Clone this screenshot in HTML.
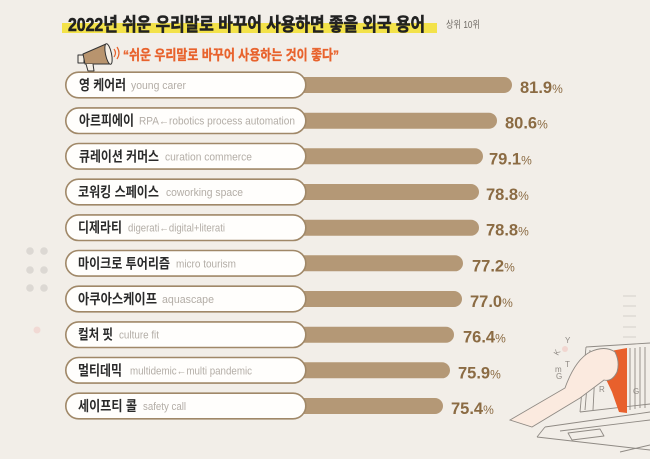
<!DOCTYPE html>
<html>
<head>
<meta charset="utf-8">
<style>
  html,body{margin:0;padding:0;background:#f2eee8;}
  svg{display:block;}
  .ko{font-family:"Liberation Sans","Noto Sans CJK KR",sans-serif;font-weight:700;fill:#2a2a2a;font-size:14px;}
  .en{font-family:"Liberation Sans","DejaVu Sans",sans-serif;fill:#b3ada6;font-size:11px;}
  .val{font-family:"Liberation Sans",sans-serif;font-weight:700;fill:#8b6b43;font-size:16.5px;}
  .pct{font-weight:400;font-size:12px;}
</style>
</head>
<body>
<svg width="650" height="459" viewBox="0 0 650 459" xmlns="http://www.w3.org/2000/svg">
  <rect x="0" y="0" width="650" height="459" fill="#f2eee8"/>

  <!-- Title -->
  <rect x="62" y="23" width="375" height="10" fill="#f3e24a"/>
  <text x="68" y="31" textLength="357" lengthAdjust="spacingAndGlyphs" stroke="#222" stroke-width="0.6" style="font-family:'Liberation Sans','Noto Sans CJK KR',sans-serif;font-weight:700;font-size:18.5px;fill:#222;">2022년 쉬운 우리말로 바꾸어 사용하면 좋을 외국 용어</text>
  <text x="446" y="28" textLength="34" lengthAdjust="spacingAndGlyphs" style="font-family:'Liberation Sans','Noto Sans CJK KR',sans-serif;font-size:10px;fill:#6f6a64;">상위 10위</text>

  <!-- Megaphone -->
  <g stroke="#333" stroke-width="1" stroke-linejoin="round">
    <rect x="78" y="55" width="6" height="8" fill="#f5efe6"/>
    <polygon points="83,54 106,44 111,64 85,64" fill="#b8946e"/>
    <ellipse cx="108.5" cy="54" rx="3" ry="10.5" fill="#f5efe6" transform="rotate(-12 108.5 54)"/>
    <path d="M86,64 l2,7 l6,0 l-1,-7" fill="#f5efe6"/>
  </g>
  <path d="M114,49 q3,4 0,8" stroke="#e8622c" stroke-width="1.2" fill="none"/>
  <path d="M117,47 q4,6 0,12" stroke="#e8622c" stroke-width="1.2" fill="none"/>

  <!-- Subtitle -->
  <text x="123" y="60" textLength="216" lengthAdjust="spacingAndGlyphs" stroke="#e8622c" stroke-width="0.35" style="font-family:'Liberation Sans','Noto Sans CJK KR',sans-serif;font-weight:700;font-size:14px;fill:#e8622c;">“쉬운 우리말로 바꾸어 사용하는 것이 좋다”</text>

  <!-- Left decorative dots -->
  <g fill="#dcd8d3">
    <circle cx="30" cy="251" r="3.8"/><circle cx="44" cy="251" r="3.8"/>
    <circle cx="30" cy="270" r="3.8"/><circle cx="44" cy="270" r="3.8"/>
    <circle cx="30" cy="288" r="3.8"/><circle cx="44" cy="288" r="3.8"/>
  </g>
  <circle cx="37" cy="330" r="3.5" fill="#f1d9d4"/>

  <!-- Bars -->
  <g fill="#b49876">
    <rect x="290" y="77" width="222" height="16" rx="8"/>
    <rect x="290" y="112.7" width="207" height="16" rx="8"/>
    <rect x="290" y="148.3" width="193" height="16" rx="8"/>
    <rect x="290" y="184" width="189" height="16" rx="8"/>
    <rect x="290" y="219.7" width="189" height="16" rx="8"/>
    <rect x="290" y="255.3" width="173" height="16" rx="8"/>
    <rect x="290" y="291" width="172" height="16" rx="8"/>
    <rect x="290" y="326.7" width="164" height="16" rx="8"/>
    <rect x="290" y="362.3" width="160" height="16" rx="8"/>
    <rect x="290" y="398" width="153" height="16" rx="8"/>
  </g>

  <!-- Pills -->
  <g fill="#fffefc" stroke="#a08868" stroke-width="1.6">
    <rect x="65.8" y="72.2" width="240" height="25.6" rx="12.8"/>
    <rect x="65.8" y="107.9" width="240" height="25.6" rx="12.8"/>
    <rect x="65.8" y="143.5" width="240" height="25.6" rx="12.8"/>
    <rect x="65.8" y="179.2" width="240" height="25.6" rx="12.8"/>
    <rect x="65.8" y="214.9" width="240" height="25.6" rx="12.8"/>
    <rect x="65.8" y="250.5" width="240" height="25.6" rx="12.8"/>
    <rect x="65.8" y="286.2" width="240" height="25.6" rx="12.8"/>
    <rect x="65.8" y="321.9" width="240" height="25.6" rx="12.8"/>
    <rect x="65.8" y="357.5" width="240" height="25.6" rx="12.8"/>
    <rect x="65.8" y="393.2" width="240" height="25.6" rx="12.8"/>
  </g>

  <!-- Korean labels -->
  <text class="ko" x="79" y="90" textLength="47" lengthAdjust="spacingAndGlyphs">영 케어러</text>
  <text class="ko" x="79" y="125.7" textLength="55" lengthAdjust="spacingAndGlyphs">아르피에이</text>
  <text class="ko" x="79" y="161.3" textLength="80" lengthAdjust="spacingAndGlyphs">큐레이션 커머스</text>
  <text class="ko" x="78" y="197" textLength="81" lengthAdjust="spacingAndGlyphs">코워킹 스페이스</text>
  <text class="ko" x="78" y="232.7" textLength="44" lengthAdjust="spacingAndGlyphs">디제라티</text>
  <text class="ko" x="78" y="268.3" textLength="92" lengthAdjust="spacingAndGlyphs">마이크로 투어리즘</text>
  <text class="ko" x="78" y="304" textLength="79" lengthAdjust="spacingAndGlyphs">아쿠아스케이프</text>
  <text class="ko" x="78" y="339.7" textLength="35" lengthAdjust="spacingAndGlyphs">컬처 핏</text>
  <text class="ko" x="78" y="375.3" textLength="44" lengthAdjust="spacingAndGlyphs">멀티데믹</text>
  <text class="ko" x="78" y="411" textLength="59" lengthAdjust="spacingAndGlyphs">세이프티 콜</text>

  <!-- English labels -->
  <text class="en" x="131" y="89" textLength="55" lengthAdjust="spacingAndGlyphs">young carer</text>
  <text class="en" x="139" y="124.7" textLength="156" lengthAdjust="spacingAndGlyphs">RPA←robotics process automation</text>
  <text class="en" x="165" y="160.3" textLength="87" lengthAdjust="spacingAndGlyphs">curation commerce</text>
  <text class="en" x="166" y="196" textLength="77" lengthAdjust="spacingAndGlyphs">coworking space</text>
  <text class="en" x="128" y="231.7" textLength="97" lengthAdjust="spacingAndGlyphs">digerati←digital+literati</text>
  <text class="en" x="176" y="267.3" textLength="60" lengthAdjust="spacingAndGlyphs">micro tourism</text>
  <text class="en" x="162" y="303" textLength="52" lengthAdjust="spacingAndGlyphs">aquascape</text>
  <text class="en" x="119" y="338.7" textLength="40" lengthAdjust="spacingAndGlyphs">culture fit</text>
  <text class="en" x="130" y="374.3" textLength="122" lengthAdjust="spacingAndGlyphs">multidemic←multi pandemic</text>
  <text class="en" x="143" y="410" textLength="43" lengthAdjust="spacingAndGlyphs">safety call</text>

  <!-- Values -->
  <text class="val" x="520" y="93">81.9<tspan class="pct">%</tspan></text>
  <text class="val" x="505" y="128.7">80.6<tspan class="pct">%</tspan></text>
  <text class="val" x="489" y="164.3">79.1<tspan class="pct">%</tspan></text>
  <text class="val" x="486" y="200">78.8<tspan class="pct">%</tspan></text>
  <text class="val" x="486" y="235.7">78.8<tspan class="pct">%</tspan></text>
  <text class="val" x="472" y="271.3">77.2<tspan class="pct">%</tspan></text>
  <text class="val" x="470" y="307">77.0<tspan class="pct">%</tspan></text>
  <text class="val" x="463" y="342.7">76.4<tspan class="pct">%</tspan></text>
  <text class="val" x="458" y="378.3">75.9<tspan class="pct">%</tspan></text>
  <text class="val" x="451" y="414">75.4<tspan class="pct">%</tspan></text>

  <!-- Bottom-right illustration -->
  <g stroke="#dedad4" stroke-width="1.5">
    <line x1="623" y1="296" x2="636" y2="296"/>
    <line x1="623" y1="306" x2="636" y2="306"/>
    <line x1="623" y1="316" x2="636" y2="316"/>
    <line x1="623" y1="327" x2="636" y2="327"/>
    <line x1="623" y1="337" x2="636" y2="337"/>
  </g>
  <circle cx="565" cy="349" r="3" fill="#f1d6d0"/>
  <g fill="none" stroke="#8f8a84" stroke-width="0.9" stroke-linejoin="round">
    <path d="M586,347 L650,343"/>
    <path d="M586,347 L580,412"/>
    <path d="M590,350 L585,410"/>
    <path d="M580,412 L650,404"/>
    <line x1="630" y1="348" x2="630" y2="410"/>
    <line x1="635" y1="348" x2="635" y2="409"/>
    <line x1="640" y1="347" x2="640" y2="408"/>
    <line x1="645" y1="347" x2="645" y2="408"/>
    <line x1="596" y1="352" x2="593" y2="410"/>
    <path d="M545,427 L650,412"/>
    <path d="M537,437 L545,427"/>
    <path d="M537,437 L650,450"/>
    <path d="M560,431 L650,420"/>
    <path d="M568,433 L600,429 L604,436 L572,440 Z"/>
    <path d="M620,452 L650,445"/>
  </g>
  <path d="M600,353 L627,348 L627,413 L619,412 L612,392 L604,375 Z" fill="#e8602c"/>
  <path d="M510,420 L565,388 Q575,360 590,352 Q605,345 615,352 Q620,362 617,372 Q612,382 604,380 L580,398 L532,427 Z" fill="#fbeadf" stroke="#8f8a84" stroke-width="0.9"/>
  <g font-family="Liberation Sans, sans-serif" font-size="8" fill="#8f8a84">
    <text x="558" y="356" transform="rotate(-60 558 356)">K</text>
    <text x="565" y="343">Y</text>
    <text x="565" y="367">T</text>
    <text x="555" y="372">m</text>
    <text x="556" y="379">G</text>
    <text x="599" y="392">R</text>
    <text x="633" y="394">G</text>
  </g>
</svg>
</body>
</html>
